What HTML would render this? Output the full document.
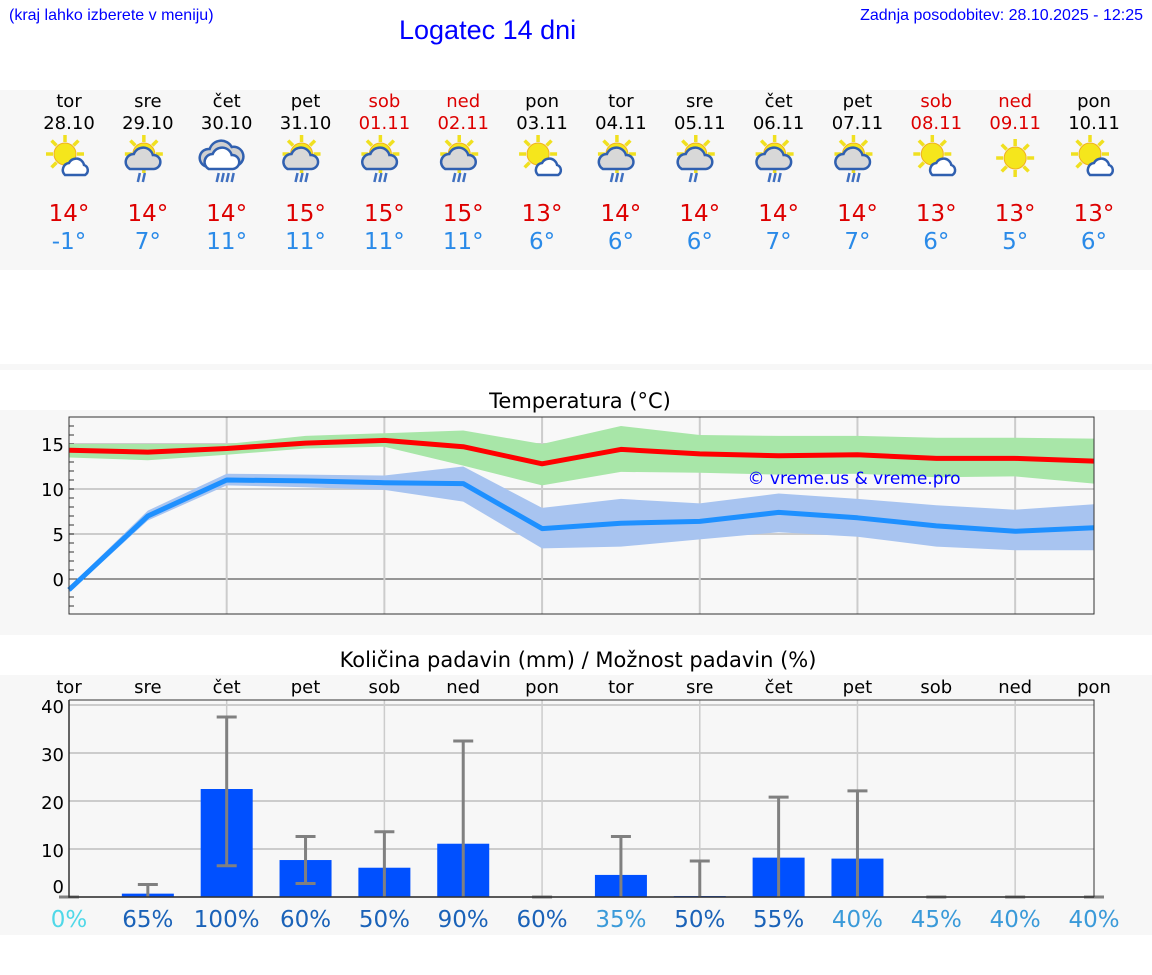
<!DOCTYPE html>
<html><head><meta charset="utf-8"><style>
body{margin:0;width:1152px;height:975px;background:#fff;font-family:"DejaVu Sans","Liberation Sans",sans-serif;position:relative;overflow:hidden}
.abs{position:absolute}
</style></head><body>
<div class="abs" style="left:9px;top:7px;font-size:16px;color:#00f;font-family:'Liberation Sans',sans-serif">(kraj lahko izberete v meniju)</div>
<div class="abs" style="left:399px;top:15px;font-size:27px;color:#00f;font-family:'Liberation Sans',sans-serif">Logatec 14 dni</div>
<div class="abs" style="right:9px;top:7px;font-size:16px;color:#00f;font-family:'Liberation Sans',sans-serif">Zadnja posodobitev: 28.10.2025 - 12:25</div>
<div class="abs" style="left:0;top:90px;width:1152px;height:180px;background:#f7f7f7"></div>
<div class="abs" style="left:0;top:364px;width:1152px;height:6px;background:#f7f7f7"></div>
<div class="abs" style="left:0;top:410px;width:1152px;height:225px;background:#f7f7f7"></div>
<div class="abs" style="left:0;top:675px;width:1152px;height:260px;background:#f7f7f7"></div>
<svg class="abs" style="left:0;top:0" width="1152" height="975" id="svg"></svg>
<script>
const days=["tor","sre","čet","pet","sob","ned","pon","tor","sre","čet","pet","sob","ned","pon"];
const dates=["28.10","29.10","30.10","31.10","01.11","02.11","03.11","04.11","05.11","06.11","07.11","08.11","09.11","10.11"];
const weekend=[0,0,0,0,1,1,0,0,0,0,0,1,1,0];
const icons=["sc","scr","ccr","scr","scr","scr","sc","scr","scr","scr","scr","sc","s","sc"];
const tmax=[14.3,14.1,14.5,15.1,15.4,14.7,12.8,14.4,13.9,13.7,13.8,13.4,13.4,13.1];
const tmaxHi=[15,15,15,15.9,16.2,16.5,15,17,16,15.9,15.9,15.7,15.7,15.6];
const tmaxLo=[13.5,13.2,13.8,14.5,14.7,12.6,10.4,11.9,11.8,11.6,11.7,11.3,11.4,10.6];
const tmin=[-1.2,7,11,10.9,10.7,10.6,5.6,6.2,6.4,7.4,6.8,5.9,5.3,5.7];
const tminHi=[-0.9,7.6,11.7,11.6,11.5,12.5,7.9,8.9,8.4,9.5,8.9,8.2,7.7,8.3];
const tminLo=[-1.5,6.5,10.4,10.2,9.9,8.6,3.4,3.6,4.4,5.2,4.7,3.6,3.2,3.2];
const maxLabels=["14°","14°","14°","15°","15°","15°","13°","14°","14°","14°","14°","13°","13°","13°"];
const minLabels=["-1°","7°","11°","11°","11°","11°","6°","6°","6°","7°","7°","6°","5°","6°"];
const tempTicks=[0,5,10,15];
const precip=[0,0.7,22.5,7.7,6.1,11.1,0,4.6,0.2,8.2,8,0,0,0];
const precipHi=[0,2.6,37.5,12.6,13.6,32.5,0,12.6,7.5,20.8,22.1,0,0,0];
const precipLo=[0,0,6.5,2.8,0,0,0,0,0,0,0,0,0,0];
const chance=[0,65,100,60,50,90,60,35,50,55,40,45,40,40];
const precipTicks=[0,10,20,30,40];

const NS="http://www.w3.org/2000/svg",svg=document.getElementById('svg');
function mk(t,a,txt){const e=document.createElementNS(NS,t);for(const k in a)e.setAttribute(k,a[k]);if(txt!==undefined)e.textContent=txt;svg.appendChild(e);return e;}
const X0=69,X1=1094;
const px=i=>X0+i*(X1-X0)/13;
const ty=v=>579-9*v;
const py=v=>897-4.8*v;
days.forEach((d,i)=>{
  const c=weekend[i]?"#d00":"#000";
  let e=mk('text',{x:px(i),y:107,'font-size':18,'text-anchor':'middle',fill:c},d);
  
  e=mk('text',{x:px(i),y:129,'font-size':18,'text-anchor':'middle',fill:c},dates[i]);
  
  const cx=px(i),cy=158,k=icons[i];
  const g=document.createElementNS(NS,'g');svg.appendChild(g);
  
  let h='';
  if(k!=="ccr"){
    const sx=k==="s"?cx:cx-4,sy=k==="s"?cy:cy-4;
    for(let a=0;a<8;a++){const an=a*Math.PI/4;h+=`<line x1="${sx+12*Math.cos(an)}" y1="${sy+12*Math.sin(an)}" x2="${sx+19*Math.cos(an)}" y2="${sy+19*Math.sin(an)}" stroke="#f0e020" stroke-width="3.5"/>`;}
    h+=`<circle cx="${sx}" cy="${sy}" r="11" fill="#f5e61c" stroke="#f0b020"/>`;
  }
  if(k==="sc") h+=`<path d="M${cx-4} ${cy+17} a7 7 0 0 1 4-12 a8 8 0 0 1 15 2 a5.5 5.5 0 0 1 1 10 z" fill="#fff" stroke="#3060b0" stroke-width="2.5"/>`;
  if(k==="scr"||k==="ccr"){
    if(k==="ccr") h+=`<path d="M${cx-22} ${cy+8} a9 9 0 0 1 5-17 a12 12 0 0 1 22-2 a9 9 0 0 1 4 19 z" fill="#d0d0d0" stroke="#3060b0" stroke-width="2.5"/>`;
    h+=`<path d="M${cx-18} ${cy+11} a8 8 0 0 1 4-15 a10 10 0 0 1 19 1 a7 7 0 0 1 1 14 z" fill="${k==='ccr'?'#fff':'#d8d8d8'}" stroke="#3060b0" stroke-width="2.5"/>`;
    for(let r=0;r<(k==="ccr"?4:(i===1||i===8?2:3));r++) h+=`<line x1="${cx-8+r*5}" y1="${cy+15}" x2="${cx-10+r*5}" y2="${cy+24}" stroke="#4070c0" stroke-width="2.5"/>`;
  }
  g.innerHTML=h;
  e=mk('text',{x:px(i),y:221,'font-size':23,'text-anchor':'middle',fill:'#d00'},maxLabels[i]);
  
  e=mk('text',{x:px(i),y:249,'font-size':23,'text-anchor':'middle',fill:'#2a8ae8'},minLabels[i]);
  
});
let e=mk('text',{x:580,y:408,'font-size':21,'text-anchor':'middle',fill:'#000'},"Temperatura (°C)");

mk('rect',{x:X0,y:417,width:X1-X0,height:197,fill:'#f8f8f8'});
tempTicks.forEach(v=>{
  mk('line',{x1:X0,x2:X1,y1:ty(v),y2:ty(v),stroke:v===0?'#333':'#ccc','stroke-width':v===0?1:2});
  const t=mk('text',{x:64,y:ty(v)+7,'font-size':18,'text-anchor':'end'},String(v));
  
});
for(let v=-3;v<=17;v++) mk('line',{x1:X0,x2:X0+5,y1:ty(v),y2:ty(v),stroke:'#333'});
for(let i=2;i<13;i+=2) mk('line',{x1:px(i),x2:px(i),y1:417,y2:614,stroke:'#ccc','stroke-width':2});
function band(hi,lo,fill,name){const pts=hi.map((v,i)=>px(i)+','+ty(v)).concat(lo.map((v,i)=>px(i)+','+ty(v)).reverse());const p=mk('polygon',{points:pts.join(' '),fill:fill});}
band(tmaxHi,tmaxLo,'#a8e6a8','max-temp-band');
band(tminHi,tminLo,'#a8c4f0','min-temp-band');
function line(a,c,name){const p=mk('polyline',{points:a.map((v,i)=>px(i)+','+ty(v)).join(' '),fill:'none',stroke:c,'stroke-width':5,'stroke-linejoin':'round'});}
line(tmax,'#ff0000','max-temp-line');
line(tmin,'#1e90ff','min-temp-line');
e=mk('text',{x:854,y:484,'font-size':17,'text-anchor':'middle',fill:'#00f'},"© vreme.us & vreme.pro");

mk('rect',{x:X0,y:417,width:X1-X0,height:197,fill:'none',stroke:'#333'});
e=mk('text',{x:578,y:667,'font-size':21,'text-anchor':'middle'},"Količina padavin (mm) / Možnost padavin (%)");

for(let i=2;i<14;i+=2) mk('line',{x1:px(i),x2:px(i),y1:700,y2:897,stroke:'#ccc','stroke-width':1.5});
precipTicks.forEach(v=>{
  mk('line',{x1:X0,x2:X1,y1:py(v),y2:py(v),stroke:'#ccc','stroke-width':2});
  const t=mk('text',{x:64,y:Math.max(702,Math.min(893,py(v)+8)),'font-size':18,'text-anchor':'end'},String(v));
  
});
days.forEach((d,i)=>{
  const t=mk('text',{x:px(i),y:693,'font-size':18,'text-anchor':'middle'},d);
  
  if(precip[i]>0){const b=mk('rect',{x:px(i)-26,y:py(precip[i]),width:52,height:py(0)-py(precip[i]),fill:'#0050ff'});
    }
  const g=mk('path',{d:`M${px(i)} ${py(precipLo[i])}V${py(precipHi[i])}M${px(i)-10} ${py(precipHi[i])}h20`+(precipLo[i]>0?`M${px(i)-10} ${py(precipLo[i])}h20`:''),stroke:'#808080','stroke-width':3,fill:'none'});
  
  const col=chance[i]===0?'#50d8e8':chance[i]<50?'#3a9ad9':'#1a62b8';
  const c=mk('text',{x:px(i),y:927,'font-size':23,'text-anchor':'middle',fill:col},chance[i]+'%');
  
});
mk('polyline',{points:`${X0},700 ${X1},700 ${X1},897`,fill:'none',stroke:'#333'});
mk('polyline',{points:`${X0},700 ${X0},897 ${X1},897`,fill:'none',stroke:'#333','stroke-width':1.5});
</script>
</body></html>
